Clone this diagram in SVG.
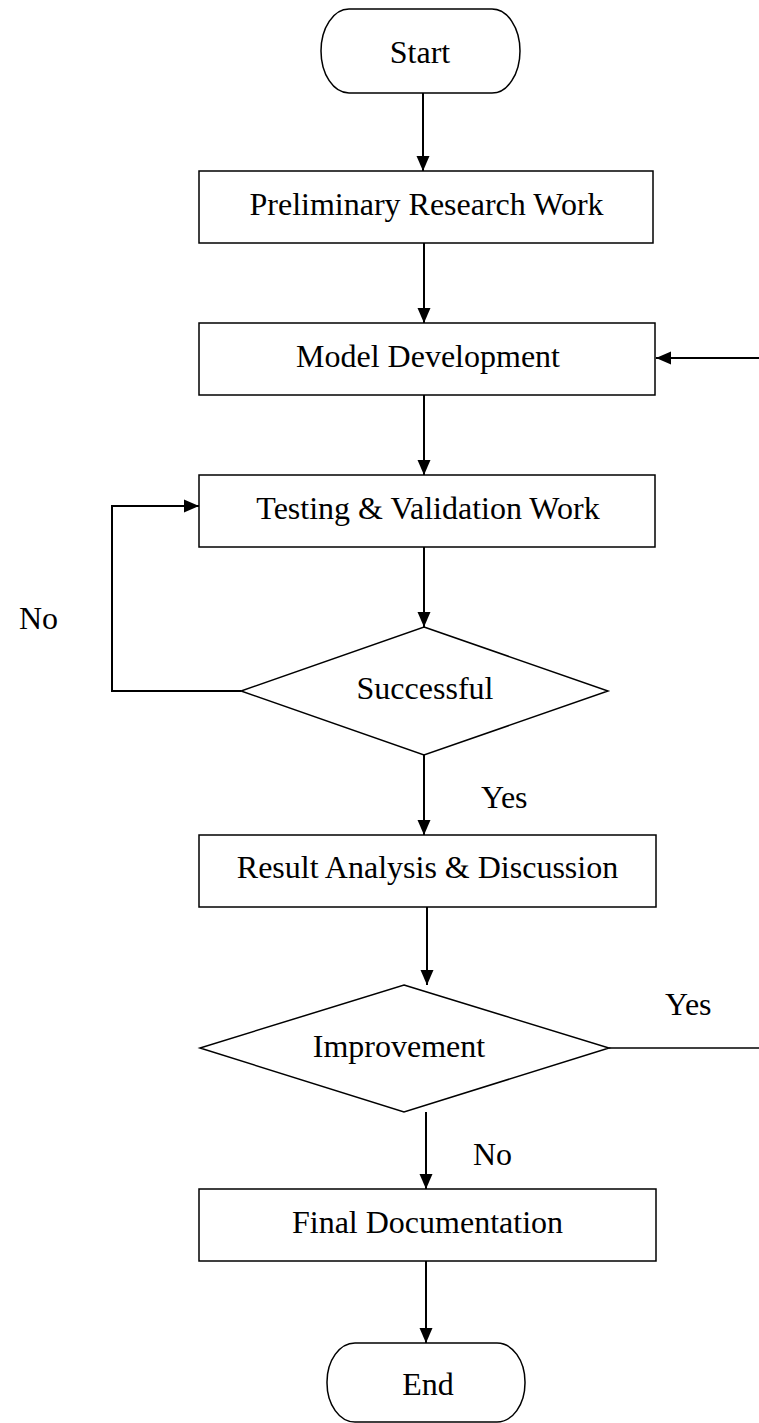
<svg xmlns="http://www.w3.org/2000/svg" width="759" height="1423" viewBox="0 0 759 1423">
<style>
.shape{fill:#fff;stroke:#000;stroke-width:1.5}
.lbl{font-family:"Liberation Serif","Times New Roman",serif;font-size:32px;fill:#000}
.mid{text-anchor:middle}
.conn{fill:none;stroke:#000;stroke-width:2}
.arr{marker-end:url(#ah)}
</style>
<defs>
<marker id="ah" markerUnits="userSpaceOnUse" markerWidth="15" markerHeight="14" viewBox="0 0 15 14" refX="15" refY="7" orient="auto">
<path d="M0,0.5 L15,7 L0,13.5 Z" fill="#000"/>
</marker>
</defs>
<g id="connectors">
<line class="conn arr" x1="423" y1="93" x2="423" y2="171"/>
<line class="conn arr" x1="424" y1="243" x2="424" y2="323"/>
<line class="conn arr" x1="424" y1="395" x2="424" y2="475"/>
<line class="conn arr" x1="424" y1="547" x2="424" y2="627"/>
<line class="conn arr" x1="424" y1="755" x2="424" y2="835"/>
<line class="conn arr" x1="427" y1="907" x2="427" y2="985"/>
<line class="conn arr" x1="426" y1="1112" x2="426" y2="1189"/>
<line class="conn arr" x1="426" y1="1261" x2="426" y2="1343"/>
<polyline class="conn arr" points="241,691 112,691 112,506 199,506"/>
<line class="conn" x1="609" y1="1048" x2="759" y2="1048" style="stroke-width:1.5"/>
<line class="conn arr" x1="759" y1="358" x2="656" y2="358"/>
</g>
<g id="start">
<rect class="shape" x="321" y="9" width="199" height="84" rx="28" ry="42"/>
<text class="lbl mid" x="420" y="63">Start</text>
</g>
<g id="preliminary">
<rect class="shape" x="199" y="171" width="454" height="72"/>
<text class="lbl mid" x="426.5" y="215">Preliminary Research Work</text>
</g>
<g id="model">
<rect class="shape" x="199" y="323" width="456" height="72"/>
<text class="lbl mid" x="428" y="367">Model Development</text>
</g>
<g id="testing">
<rect class="shape" x="199" y="475" width="456" height="72"/>
<text class="lbl mid" x="428" y="519">Testing &amp; Validation Work</text>
</g>
<g id="successful">
<polygon class="shape" points="424,627 608,691 424,755 241,691"/>
<text class="lbl mid" x="425" y="699">Successful</text>
</g>
<g id="label-no-1"><text class="lbl" x="19" y="629">No</text></g>
<g id="label-yes-1"><text class="lbl" x="481" y="808">Yes</text></g>
<g id="result">
<rect class="shape" x="199" y="835" width="457" height="72"/>
<text class="lbl mid" x="427.5" y="878">Result Analysis &amp; Discussion</text>
</g>
<g id="improvement">
<polygon class="shape" points="404,985 609,1048 404,1112 200,1048"/>
<text class="lbl mid" x="399" y="1057">Improvement</text>
</g>
<g id="label-yes-2"><text class="lbl" x="665" y="1015">Yes</text></g>
<g id="label-no-2"><text class="lbl" x="473" y="1165">No</text></g>
<g id="final">
<rect class="shape" x="199" y="1189" width="457" height="72"/>
<text class="lbl mid" x="427.5" y="1233">Final Documentation</text>
</g>
<g id="end">
<rect class="shape" x="327" y="1343" width="198" height="79" rx="28" ry="39"/>
<text class="lbl mid" x="428" y="1395">End</text>
</g>
</svg>
